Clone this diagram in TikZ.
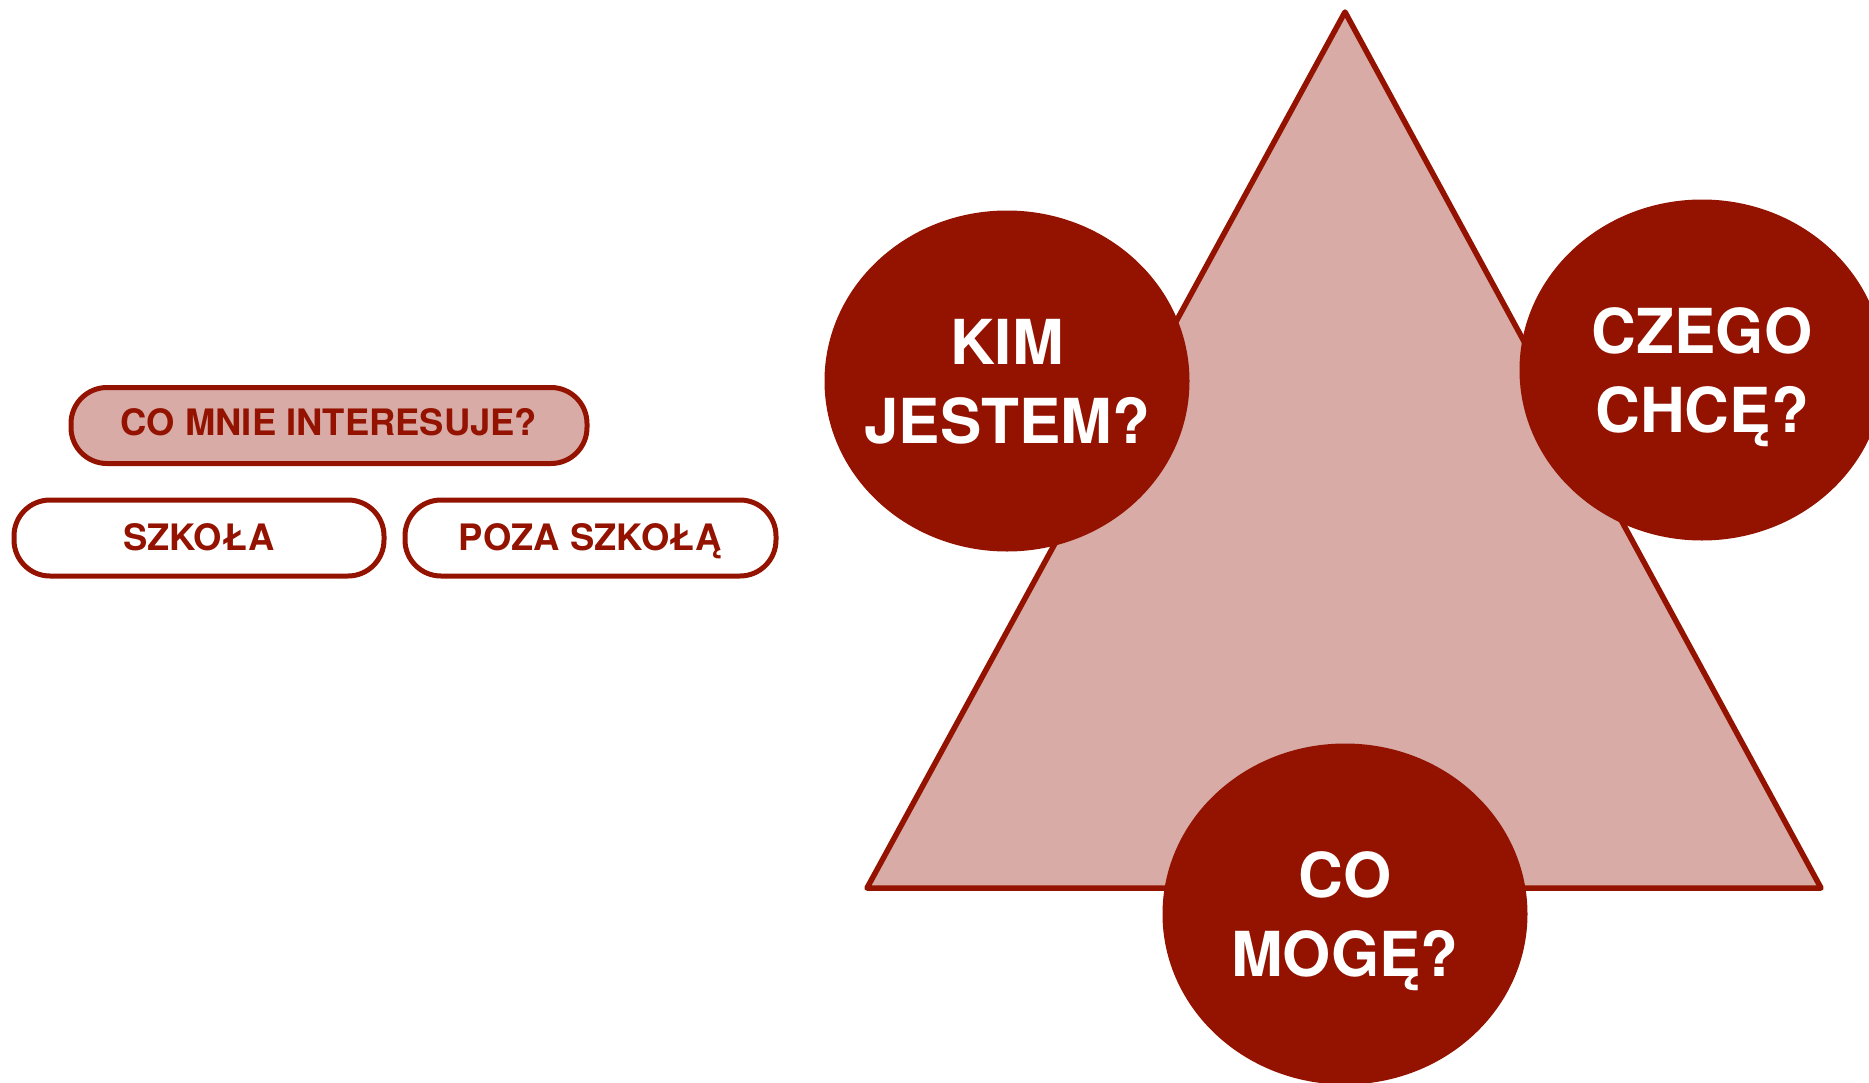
\documentclass[tikz,border=0pt]{standalone}
\usepackage{fontspec}
\setmainfont{TeX Gyre Heros}
\usetikzlibrary{shapes.geometric}

\definecolor{darkred}{RGB}{147,19,0}
\definecolor{pinkfill}{RGB}{216,171,167}

\tikzset{
  pill/.style={rectangle, rounded corners=18pt, draw=darkred, line width=2.5pt,
    minimum height=38pt, text=darkred, text height=12.5pt, text depth=0pt,
    font=\bfseries\fontsize{18.2}{22}\selectfont},
  blob/.style={ellipse, fill=darkred, inner sep=-40pt, minimum width=182.5pt, minimum height=170.5pt,
    text=white, align=center, text depth=0pt, font=\bfseries\fontsize{31}{39.5}\selectfont}
}

\begin{document}
\begin{tikzpicture}[x=0.5pt, y=-0.5pt]
      \useasboundingbox (0,0) rectangle (1869,1082);
      \coordinate (top) at (1345, 12);
      \coordinate (left) at (867, 888);
      \coordinate (right) at (1821, 888);
      \draw[darkred, fill=pinkfill, line width=2.75pt, line join=round] (top) -- (left) -- (right) -- cycle;
      \node[blob] (kim) at (1007, 381) {KIM\\JESTEM?};
      \node[blob] (czego) at (1702, 370) {CZEGO\\CHCĘ?};
      \node[blob] (moge) at (1345, 914) {CO\\MOGĘ?};
      \node[pill, fill=pinkfill, minimum width=258pt] (interes) at (329, 425.5) {\raisebox{1.5pt}{CO MNIE INTERESUJE?}\hspace{9pt}};
      \node[pill, fill=white, minimum width=185pt] (szkola) at (199, 538) {SZKOŁA};
      \node[pill, fill=white, minimum width=185.5pt] (poza) at (590.5, 538) {POZA SZKOŁĄ};
    \end{tikzpicture}
\end{document}
